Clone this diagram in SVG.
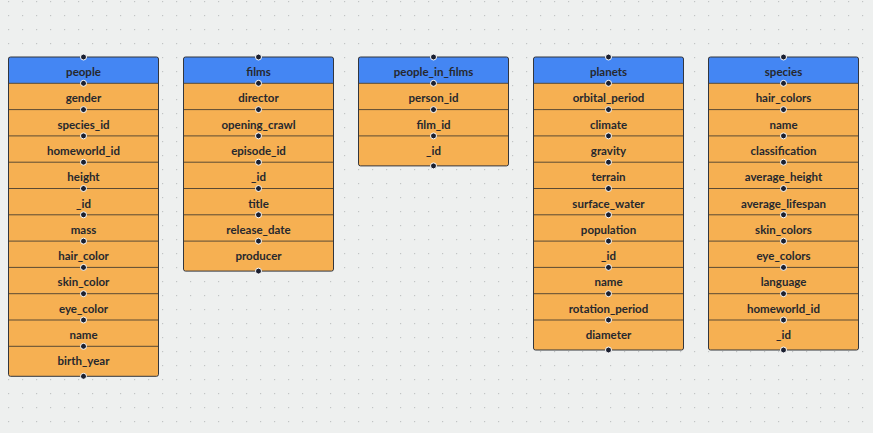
<svg xmlns="http://www.w3.org/2000/svg" width="873" height="433" viewBox="0 0 873 433">
<defs>
<pattern id="grid" x="0" y="0" width="14" height="14" patternUnits="userSpaceOnUse">
<rect x="8" y="1" width="1.2" height="1.2" fill="#c2c4c4"/>
</pattern>
</defs>
<style>
.body{fill:#f6b052;}
.head{fill:#4486f3;}
.frame{fill:none;stroke:#33363d;stroke-width:1;}
.sep{stroke:#5b4a34;stroke-width:1;}
.t{font-family:"Lato","Liberation Sans",sans-serif;font-weight:bold;font-size:11.5px;fill:#26282e;text-anchor:middle;}
.dot{fill:#1b2030;stroke:#ffffff;stroke-width:1;}
</style>
<rect width="873" height="433" fill="#eef0ef"/>
<rect width="873" height="433" fill="url(#grid)"/>
<g id="connectors"/>

<g id="people" transform="translate(8.5,57)">
<rect class="body" x="0" y="0" width="150" height="319.3" rx="2"/>
<path class="head" d="M0,26.3 V2 Q0,0 2,0 H148 Q150,0 150,2 V26.3 Z"/>
<g class="sep">
<line x1="0" y1="26.3" x2="150" y2="26.3"/><line x1="0" y1="52.6" x2="150" y2="52.6"/><line x1="0" y1="78.9" x2="150" y2="78.9"/><line x1="0" y1="105.2" x2="150" y2="105.2"/><line x1="0" y1="131.5" x2="150" y2="131.5"/><line x1="0" y1="157.8" x2="150" y2="157.8"/><line x1="0" y1="184.1" x2="150" y2="184.1"/><line x1="0" y1="210.4" x2="150" y2="210.4"/><line x1="0" y1="236.7" x2="150" y2="236.7"/><line x1="0" y1="263" x2="150" y2="263"/><line x1="0" y1="289.3" x2="150" y2="289.3"/>
</g>
<rect class="frame" x="0" y="0" width="150" height="319.3" rx="2"/>
<text class="t" x="75" y="19">people</text>
<text class="t" x="75" y="45.3">gender</text>
<text class="t" x="75" y="71.6">species_id</text>
<text class="t" x="75" y="97.9">homeworld_id</text>
<text class="t" x="75" y="124.2">height</text>
<text class="t" x="75" y="150.5">_id</text>
<text class="t" x="75" y="176.8">mass</text>
<text class="t" x="75" y="203.1">hair_color</text>
<text class="t" x="75" y="229.4">skin_color</text>
<text class="t" x="75" y="255.7">eye_color</text>
<text class="t" x="75" y="282">name</text>
<text class="t" x="75" y="308.3">birth_year</text>
<g class="dot">
<circle cx="75" cy="0" r="3"/><circle cx="75" cy="26.3" r="3"/><circle cx="75" cy="52.6" r="3"/><circle cx="75" cy="78.9" r="3"/><circle cx="75" cy="105.2" r="3"/><circle cx="75" cy="131.5" r="3"/><circle cx="75" cy="157.8" r="3"/><circle cx="75" cy="184.1" r="3"/><circle cx="75" cy="210.4" r="3"/><circle cx="75" cy="236.7" r="3"/><circle cx="75" cy="263" r="3"/><circle cx="75" cy="289.3" r="3"/><circle cx="75" cy="319.3" r="3"/>
</g>
</g>

<g id="films" transform="translate(183.5,57)">
<rect class="body" x="0" y="0" width="150" height="214.1" rx="2"/>
<path class="head" d="M0,26.3 V2 Q0,0 2,0 H148 Q150,0 150,2 V26.3 Z"/>
<g class="sep">
<line x1="0" y1="26.3" x2="150" y2="26.3"/><line x1="0" y1="52.6" x2="150" y2="52.6"/><line x1="0" y1="78.9" x2="150" y2="78.9"/><line x1="0" y1="105.2" x2="150" y2="105.2"/><line x1="0" y1="131.5" x2="150" y2="131.5"/><line x1="0" y1="157.8" x2="150" y2="157.8"/><line x1="0" y1="184.1" x2="150" y2="184.1"/>
</g>
<rect class="frame" x="0" y="0" width="150" height="214.1" rx="2"/>
<text class="t" x="75" y="19">films</text>
<text class="t" x="75" y="45.3">director</text>
<text class="t" x="75" y="71.6">opening_crawl</text>
<text class="t" x="75" y="97.9">episode_id</text>
<text class="t" x="75" y="124.2">_id</text>
<text class="t" x="75" y="150.5">title</text>
<text class="t" x="75" y="176.8">release_date</text>
<text class="t" x="75" y="203.1">producer</text>
<g class="dot">
<circle cx="75" cy="0" r="3"/><circle cx="75" cy="26.3" r="3"/><circle cx="75" cy="52.6" r="3"/><circle cx="75" cy="78.9" r="3"/><circle cx="75" cy="105.2" r="3"/><circle cx="75" cy="131.5" r="3"/><circle cx="75" cy="157.8" r="3"/><circle cx="75" cy="184.1" r="3"/><circle cx="75" cy="214.1" r="3"/>
</g>
</g>

<g id="people_in_films" transform="translate(358.5,57)">
<rect class="body" x="0" y="0" width="150" height="108.9" rx="2"/>
<path class="head" d="M0,26.3 V2 Q0,0 2,0 H148 Q150,0 150,2 V26.3 Z"/>
<g class="sep">
<line x1="0" y1="26.3" x2="150" y2="26.3"/><line x1="0" y1="52.6" x2="150" y2="52.6"/><line x1="0" y1="78.9" x2="150" y2="78.9"/>
</g>
<rect class="frame" x="0" y="0" width="150" height="108.9" rx="2"/>
<text class="t" x="75" y="19">people_in_films</text>
<text class="t" x="75" y="45.3">person_id</text>
<text class="t" x="75" y="71.6">film_id</text>
<text class="t" x="75" y="97.9">_id</text>
<g class="dot">
<circle cx="75" cy="0" r="3"/><circle cx="75" cy="26.3" r="3"/><circle cx="75" cy="52.6" r="3"/><circle cx="75" cy="78.9" r="3"/><circle cx="75" cy="108.9" r="3"/>
</g>
</g>

<g id="planets" transform="translate(533.5,57)">
<rect class="body" x="0" y="0" width="150" height="293" rx="2"/>
<path class="head" d="M0,26.3 V2 Q0,0 2,0 H148 Q150,0 150,2 V26.3 Z"/>
<g class="sep">
<line x1="0" y1="26.3" x2="150" y2="26.3"/><line x1="0" y1="52.6" x2="150" y2="52.6"/><line x1="0" y1="78.9" x2="150" y2="78.9"/><line x1="0" y1="105.2" x2="150" y2="105.2"/><line x1="0" y1="131.5" x2="150" y2="131.5"/><line x1="0" y1="157.8" x2="150" y2="157.8"/><line x1="0" y1="184.1" x2="150" y2="184.1"/><line x1="0" y1="210.4" x2="150" y2="210.4"/><line x1="0" y1="236.7" x2="150" y2="236.7"/><line x1="0" y1="263" x2="150" y2="263"/>
</g>
<rect class="frame" x="0" y="0" width="150" height="293" rx="2"/>
<text class="t" x="75" y="19">planets</text>
<text class="t" x="75" y="45.3">orbital_period</text>
<text class="t" x="75" y="71.6">climate</text>
<text class="t" x="75" y="97.9">gravity</text>
<text class="t" x="75" y="124.2">terrain</text>
<text class="t" x="75" y="150.5">surface_water</text>
<text class="t" x="75" y="176.8">population</text>
<text class="t" x="75" y="203.1">_id</text>
<text class="t" x="75" y="229.4">name</text>
<text class="t" x="75" y="255.7">rotation_period</text>
<text class="t" x="75" y="282">diameter</text>
<g class="dot">
<circle cx="75" cy="0" r="3"/><circle cx="75" cy="26.3" r="3"/><circle cx="75" cy="52.6" r="3"/><circle cx="75" cy="78.9" r="3"/><circle cx="75" cy="105.2" r="3"/><circle cx="75" cy="131.5" r="3"/><circle cx="75" cy="157.8" r="3"/><circle cx="75" cy="184.1" r="3"/><circle cx="75" cy="210.4" r="3"/><circle cx="75" cy="236.7" r="3"/><circle cx="75" cy="263" r="3"/><circle cx="75" cy="293" r="3"/>
</g>
</g>

<g id="species" transform="translate(708.5,57)">
<rect class="body" x="0" y="0" width="150" height="293" rx="2"/>
<path class="head" d="M0,26.3 V2 Q0,0 2,0 H148 Q150,0 150,2 V26.3 Z"/>
<g class="sep">
<line x1="0" y1="26.3" x2="150" y2="26.3"/><line x1="0" y1="52.6" x2="150" y2="52.6"/><line x1="0" y1="78.9" x2="150" y2="78.9"/><line x1="0" y1="105.2" x2="150" y2="105.2"/><line x1="0" y1="131.5" x2="150" y2="131.5"/><line x1="0" y1="157.8" x2="150" y2="157.8"/><line x1="0" y1="184.1" x2="150" y2="184.1"/><line x1="0" y1="210.4" x2="150" y2="210.4"/><line x1="0" y1="236.7" x2="150" y2="236.7"/><line x1="0" y1="263" x2="150" y2="263"/>
</g>
<rect class="frame" x="0" y="0" width="150" height="293" rx="2"/>
<text class="t" x="75" y="19">species</text>
<text class="t" x="75" y="45.3">hair_colors</text>
<text class="t" x="75" y="71.6">name</text>
<text class="t" x="75" y="97.9">classification</text>
<text class="t" x="75" y="124.2">average_height</text>
<text class="t" x="75" y="150.5">average_lifespan</text>
<text class="t" x="75" y="176.8">skin_colors</text>
<text class="t" x="75" y="203.1">eye_colors</text>
<text class="t" x="75" y="229.4">language</text>
<text class="t" x="75" y="255.7">homeworld_id</text>
<text class="t" x="75" y="282">_id</text>
<g class="dot">
<circle cx="75" cy="0" r="3"/><circle cx="75" cy="26.3" r="3"/><circle cx="75" cy="52.6" r="3"/><circle cx="75" cy="78.9" r="3"/><circle cx="75" cy="105.2" r="3"/><circle cx="75" cy="131.5" r="3"/><circle cx="75" cy="157.8" r="3"/><circle cx="75" cy="184.1" r="3"/><circle cx="75" cy="210.4" r="3"/><circle cx="75" cy="236.7" r="3"/><circle cx="75" cy="263" r="3"/><circle cx="75" cy="293" r="3"/>
</g>
</g>
</svg>
